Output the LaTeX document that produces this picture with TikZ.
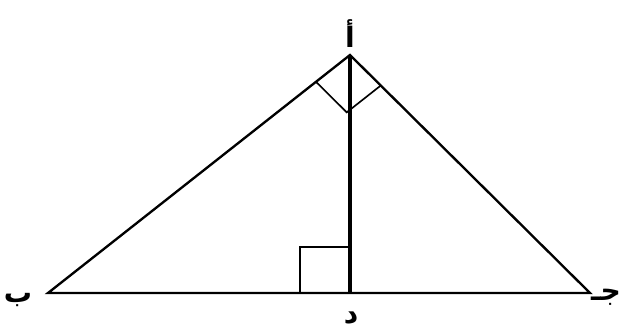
\documentclass[tikz,border=0pt]{standalone}
\usepackage{fontspec}
\usetikzlibrary{calc}
\newfontfamily\arabicfont[Script=Arabic]{DejaVu Sans}
\TeXXeTstate=1
\begin{document}
\begin{tikzpicture}[x=0.03cm,y=-0.03cm,line join=miter,
  every node/.style={font=\arabicfont\bfseries\fontsize{24}{24}\selectfont,inner sep=0pt}]
\useasboundingbox (0,0) rectangle (634,331);
\coordinate (A) at (350,55); \coordinate (B) at (48,293);
\coordinate (C) at (590,293); \coordinate (D) at (350,293);
\draw[line width=2pt](B)--(A)--(C)--cycle;
\draw[line width=3.6pt](A)--(D);
% right angles at D and A
\draw[line width=1.4pt](300,293)--(300,247)--(350,247);
\draw[line width=1.4pt]($(A)!1.3cm!(B)$) coordinate (P)--($(P)+($(A)!1.3cm!(C)$)-(A)$) coordinate (Q)--($(A)!1.3cm!(C)$);
\node (la) at (350,34){\beginR أ\endR};
\node (lb) at (18,300){\beginR ب\endR};
\node (lc) at (606,297){\beginR جـ\endR};
\node (ld) at (351,318){\beginR د\endR};
\end{tikzpicture}
\end{document}
